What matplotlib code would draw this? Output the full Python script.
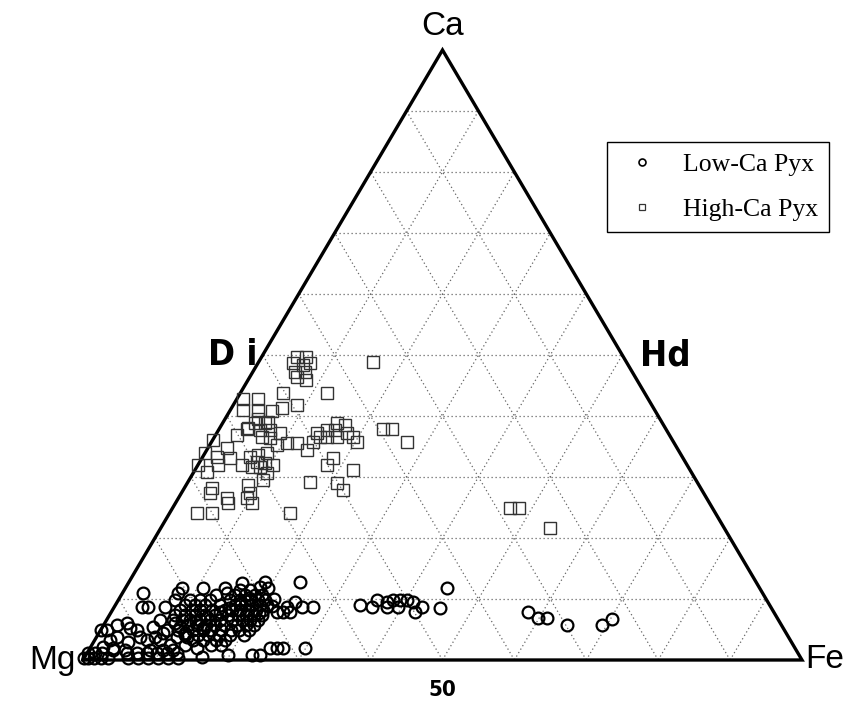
import numpy as np
import matplotlib.pyplot as plt
from matplotlib.lines import Line2D

# High-Ca pyroxene: Wo (Ca) and Fs (Fe) in mol%
hi_wo = [49.7, 49.7, 48.7, 48.4, 48.7, 47.2, 47.2, 46.4, 45.9, 48.9, 43.8, 43.8,
         42.8, 42.8, 41.8, 41.3, 41.0, 41.0, 40.8, 39.5, 39.0, 36.9, 37.9, 37.7,
         37.7, 36.6, 36.4, 37.2, 38.9, 38.5, 37.7, 37.7, 37.2, 37.2, 36.6, 36.6,
         36.6, 36.6, 35.7, 35.7, 37.9, 37.9, 35.7, 35.6, 35.6, 34.4, 35.2, 36.1,
         33.9, 34.8, 33.1, 33.3, 32.0, 32.0, 30.8, 33.3, 33.6, 33.9, 32.5, 32.3,
         32.0, 31.6, 31.6, 32.0, 30.7, 29.5, 33.1, 32.0, 31.1, 29.2, 29.0, 27.9,
         28.2, 27.4, 28.7, 27.4, 26.6, 25.7, 26.6, 25.7, 24.1, 24.1, 24.1, 24.9,
         24.9, 21.6, 38.0, 38.9, 38.9]
hi_fs = [4.9, 6.2, 4.8, 6.4, 7.2, 5.9, 7.3, 6.6, 8.1, 15.9, 5.9, 12.0,
         0.9, 2.9, 8.9, 7.0, 1.8, 3.8, 5.9, 4.6, 6.2, 3.0, 3.9, 5.8,
         7.2, 6.6, 7.8, 8.8, 15.9, 17.2, 15.1, 16.2, 18.1, 13.9, 14.7, 15.6,
         17.0, 19.3, 20.2, 14.1, 22.8, 24.0, 27.2, 12.0, 10.6, 14.0, 9.4, 0.0,
         0.0, 2.6, 3.9, 2.0, 2.8, 0.0, 1.8, 6.6, 7.5, 8.6, 8.0, 9.2,
         6.1, 7.7, 8.8, 10.4, 10.3, 10.3, 18.2, 17.9, 22.0, 17.0, 20.8, 22.2,
         3.8, 4.0, 8.6, 9.5, 9.5, 10.6, 6.7, 7.3, 3.8, 5.9, 16.7, 47.0,
         48.2, 54.2, 3.9, 4.5, 5.9]

# Low-Ca pyroxene: Wo and Fs in mol%
lo_wo = [11.0, 8.7, 8.7, 8.7, 11.8, 11.0, 9.8, 11.8, 11.8, 11.0, 12.6, 11.5,
         11.5, 12.8, 11.8, 12.0, 12.8, 4.9, 4.9, 5.7, 6.1, 5.2, 4.9, 3.3,
         2.1, 2.0, 3.0, 3.8, 3.3, 5.4, 6.6, 4.9, 6.6, 5.4, 3.8, 3.8,
         7.9, 7.9, 7.9, 9.5, 8.7, 8.7, 8.7,
         0.3, 0.3, 0.3, 0.3, 0.3, 0.3, 0.3, 0.3, 0.3, 0.3, 0.3,
         1.1, 1.1, 1.1, 1.1, 1.1, 1.1, 1.1, 1.1, 1.1,
         2.0, 0.5, 0.8, 0.8, 0.8, 2.0, 2.0, 2.0, 2.0,
         11.8, 9.0, 8.7, 9.8, 9.5, 9.8, 9.8, 9.8, 9.5, 8.7, 8.7, 7.9, 8.7, 8.5,
         7.9, 6.9, 6.9, 5.7, 5.7, 6.7,
         10.7, 10.7, 10.7, 10.7, 10.7,
         9.8, 9.8, 9.8, 9.8, 9.8, 9.8, 9.8, 9.8,
         9.0, 9.0, 9.0, 9.0, 9.0, 9.0, 9.0, 9.0, 9.0,
         8.2, 8.2, 8.2, 8.2, 8.2, 8.2, 8.2, 8.2, 8.2, 8.2,
         7.4, 7.4, 7.4, 7.4, 7.4, 7.4, 7.4, 7.4, 7.4, 7.4,
         6.6, 6.6, 6.6, 6.6, 6.6, 6.6, 6.6, 6.6, 6.6,
         5.7, 5.7, 5.7, 5.7, 5.7, 5.7, 5.7, 5.7,
         4.9, 4.9, 4.9, 4.9, 4.9, 4.9, 4.9, 4.9,
         4.1, 4.1, 4.1, 4.1, 4.1, 4.1,
         3.3, 3.3, 3.3, 3.3, 3.3,
         2.5, 2.5, 2.5, 2.5,
         1.6, 1.6, 1.6, 1.6, 1.6, 3.8, 3.8, 4.4,
         10.2, 9.4, 8.6, 7.8, 7.0, 6.2, 5.3, 4.5, 10.0, 8.9, 7.7, 6.0]
lo_fs = [2.8, 3.9, 4.7, 7.0, 7.9, 7.7, 7.9, 10.8, 13.8, 14.5, 15.8, 16.1,
         17.5, 18.9, 19.8, 18.6, 23.8, 0.0, 0.9, 1.9, 3.1, 3.9, 5.1, 2.1,
         1.7, 3.2, 4.8, 6.0, 7.3, 7.0, 7.4, 9.2, 9.2, 10.8, 11.2, 12.6,
         23.0, 23.9, 24.8, 24.7, 26.1, 27.6, 24.0,
         0.0, 0.6, 1.4, 2.4, 3.3, 6.1, 7.5, 8.9, 10.3, 11.7, 13.1,
         0.1, 1.1, 2.1, 5.6, 7.0, 8.4, 9.7, 11.1, 12.5,
         14.9, 16.3, 19.8, 23.1, 24.2, 25.0, 26.0, 26.8, 29.9,
         44.7, 34.0, 35.9, 36.0, 37.5, 38.2, 39.2, 40.2, 41.2, 39.4, 38.0, 42.2, 42.8, 45.4,
         57.9, 59.8, 61.1, 64.5, 69.3, 70.2,
         13.1, 15.8, 17.2, 18.6, 19.6,
         10.0, 11.4, 12.8, 15.5, 16.9, 18.3, 19.4, 20.4,
         9.7, 11.1, 12.5, 14.6, 16.6, 18.0, 19.0, 20.1, 21.1,
         9.4, 11.1, 12.2, 13.8, 15.6, 16.6, 17.7, 18.8, 20.0, 20.9,
         9.1, 10.5, 11.9, 13.3, 14.7, 16.5, 17.9, 19.0, 20.1, 21.2,
         10.5, 11.6, 13.0, 14.4, 15.8, 17.4, 18.8, 19.9, 21.0,
         11.7, 13.0, 14.3, 15.5, 16.8, 18.5, 19.8, 20.9,
         10.7, 12.8, 14.2, 15.4, 16.8, 18.2, 19.3, 20.7,
         12.2, 13.9, 15.4, 16.8, 18.4, 20.3,
         9.1, 13.6, 15.1, 16.8, 18.1,
         10.9, 13.0, 16.5, 17.9,
         3.4, 5.0, 8.5, 10.3, 11.7, 2.8, 8.1, 8.9,
         18.0, 17.2, 16.0, 15.2, 13.8, 12.6, 14.0, 12.0, 21.5, 21.8, 20.6, 9.8]

H = np.sqrt(3) / 2


def tern(wo, fs):
    wo = np.asarray(wo) / 100.0
    fs = np.asarray(fs) / 100.0
    return fs + wo / 2, wo * H


fig = plt.figure(figsize=(8.58, 7.04), dpi=100)
ax = fig.add_axes([0, 0, 1, 1])
ax.set_xlim(-83 / 719, -83 / 719 + 858 / 719)
sy = 610 / H
ax.set_ylim(-44 / sy, -44 / sy + 704 / sy)
ax.axis('off')

# dotted grid every 10%
for i in range(1, 10):
    t = i / 10
    gkw = dict(color='#666666', lw=0.9, ls=(0, (1, 2.2)), zorder=1)
    ax.plot([t / 2, 1 - t / 2], [t * H, t * H], **gkw)
    ax.plot([t, t / 2 + 0.5], [0, (1 - t) * H], **gkw)
    ax.plot([t, t / 2], [0, t * H], **gkw)

# triangle
ax.plot([0, 1, 0.5, 0], [0, 0, H, 0], color='black', lw=2.4, zorder=2,
        solid_joinstyle='miter')

x, y = tern(hi_wo, hi_fs)
ax.plot(x, y, ls='none', marker='s', ms=9, mfc='none', mec='#333333',
        mew=1.0, zorder=3)
x, y = tern(lo_wo, lo_fs)
ax.plot(x, y, ls='none', marker='o', ms=8.5, mfc='none', mec='black',
        mew=1.6, zorder=4)

sans = ['Liberation Sans', 'DejaVu Sans']
ax.text(0.5, H + 0.034, 'Ca', ha='center', va='center', fontsize=24, family=sans)
ax.text(-0.01, 0.0, 'Mg', ha='right', va='center', fontsize=24, family=sans)
ax.text(1.005, 0.0, 'Fe', ha='left', va='center', fontsize=24, family=sans)
ax.text(0.5, -0.043, '50', ha='center', va='center', fontsize=16,
        fontweight='bold', fontstretch='condensed', family='DejaVu Sans')
ax.text(0.208, 0.5 * H, 'D i', ha='center', va='center', fontsize=26,
        fontweight='bold', fontstretch='condensed', family='DejaVu Sans')
ax.text(0.81, 0.5 * H, 'Hd', ha='center', va='center', fontsize=26,
        fontweight='bold', fontstretch='condensed', family='DejaVu Sans')

handles = [Line2D([], [], ls='none', marker='o', ms=5, mfc='none', mec='black', mew=1.2),
           Line2D([], [], ls='none', marker='s', ms=5, mfc='none', mec='#333333', mew=0.9)]
leg = fig.legend(handles, ['Low-Ca Pyx', 'High-Ca Pyx'], loc='upper right',
                 bbox_to_anchor=(829 / 858, 1 - 142 / 704), frameon=True,
                 fancybox=False, edgecolor='black', framealpha=1,
                 prop={'family': 'Liberation Serif', 'size': 18.5},
                 handlelength=1.9, handletextpad=0.63, labelspacing=0.88,
                 borderpad=0.42, borderaxespad=0)
leg.get_frame().set_linewidth(1.0)

fig.savefig('out.png', dpi=100)
